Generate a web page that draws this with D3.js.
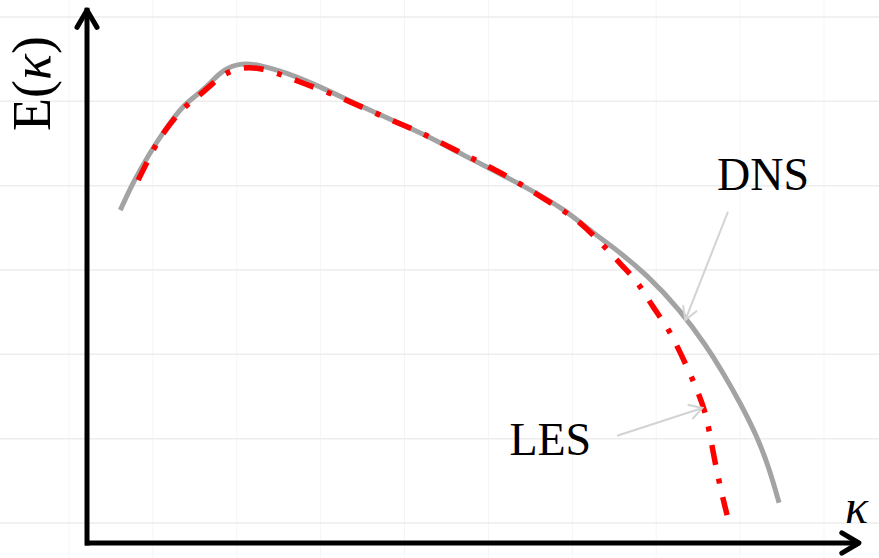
<!DOCTYPE html>
<html>
<head>
<meta charset="utf-8">
<script src="https://cdn.jsdelivr.net/npm/d3@7"></script>
<style>
  html, body { margin: 0; padding: 0; background: #fff; }
  svg { display: block; }
</style>
</head>
<body>
<svg id="chart" width="879" height="558"></svg>
<script>
// ---- data (schematic energy spectrum, arbitrary units 0-100) ----
const dnsK = [4.3, 5.9, 8.1, 10.3, 12.4, 14.6, 16.3, 17.5, 19.7, 22.3, 25.8, 29.7, 35.6, 40.0, 44.3, 48.5, 52.9, 57.2, 61.4, 65.8, 67.9, 72.3, 76.5, 80.0, 82.1, 84.3, 86.5, 88.1, 89.3];
const dnsE = [62.1, 67.2, 72.8, 77.6, 81.7, 84.0, 86.4, 88.2, 89.6, 89.2, 87.7, 85.4, 81.3, 78.5, 75.7, 72.4, 69.2, 65.9, 62.5, 57.3, 55.2, 50.0, 43.5, 36.6, 31.7, 26.1, 19.8, 13.6, 7.5];

const lesK = [6.6, 8.5, 9.8, 12.4, 14.6, 16.1, 17.8, 20.1, 22.3, 24.5, 27.5, 31.0, 32.9, 36.9, 40.1, 43.2, 46.2, 49.4, 52.4, 55.5, 58.2, 61.2, 63.6, 66.2, 69.2, 71.1, 73.0, 74.8, 76.1, 77.8, 79.1, 80.0, 81.0, 82.1, 82.6];
const lesE = [67.7, 73.3, 76.5, 81.3, 83.6, 85.6, 87.7, 88.8, 88.6, 87.7, 86.0, 84.1, 83.0, 80.4, 78.4, 76.5, 74.3, 72.0, 69.8, 67.4, 64.9, 62.3, 59.9, 56.2, 51.5, 48.7, 44.0, 40.5, 36.9, 31.7, 27.2, 23.5, 15.1, 8.0, 5.2];

const seriesNames = ["DNS", "LES"];
const labelK = [81.3, 54.5];
const labelE = [65.9, 16.4];
const arrowFromK = [82.7, 68.4];
const arrowFromE = [61.8, 20.0];
const arrowToK = [77.2, 79.4];
const arrowToE = [41.6, 25.2];

const xAxisLabel = "κ";
const yAxisLabelMain = "E(";
const yAxisLabelVar = "κ";
const yAxisLabelEnd = ")";

// ---- layout ----
const svg = d3.select("#chart");
const W = 879, H = 558;
const x = d3.scaleLinear().domain([0, 100]).range([87, 862]);
const y = d3.scaleLinear().domain([0, 100]).range([543, 7]);

const serif = "'Liberation Serif', 'DejaVu Serif', serif";

// background grid
const gx = d3.scaleLinear().domain([0, 9]).range([69, 824]);
const gy = d3.scaleLinear().domain([0, 6]).range([17, 523]);
svg.append("g").selectAll("line").data(d3.range(10)).join("line")
  .attr("x1", d => gx(d)).attr("x2", d => gx(d))
  .attr("y1", 0).attr("y2", H)
  .attr("stroke", "#f5f5f5").attr("stroke-width", 1);
svg.append("g").selectAll("line").data(d3.range(7)).join("line")
  .attr("x1", 0).attr("x2", W)
  .attr("y1", d => gy(d)).attr("y2", d => gy(d))
  .attr("stroke", "#ededed").attr("stroke-width", 1.5);

// curves
const line = d3.line().x(d => x(d[0])).y(d => y(d[1])).curve(d3.curveBasis);
const dns = dnsK.map((k, i) => [k, dnsE[i]]);
const les = lesK.map((k, i) => [k, lesE[i]]);

svg.append("path").datum(dns).attr("d", line)
  .attr("fill", "none").attr("stroke", "#a3a3a3").attr("stroke-width", 5);
svg.append("path").datum(les).attr("d", line)
  .attr("fill", "none").attr("stroke", "#ff0000").attr("stroke-width", 5.5)
  .attr("stroke-dasharray", "20,14,5,14");

// axes with arrowheads
const axisG = svg.append("g").attr("stroke", "#000").attr("stroke-width", 5).attr("fill", "none");
axisG.append("path")
  .attr("d", `M${x(0)},${y(0)}L${x(0)},${y(99.4)}`).attr("stroke-linecap", "square");
axisG.append("path")
  .attr("d", `M${x(0) - 2},${y(0)}L${x(99.6)},${y(0)}`).attr("stroke-linecap", "butt");
axisG.append("path")
  .attr("d", `M${x(0) - 10},${y(96.2)}L${x(0)},${y(99.4)}L${x(0) + 10},${y(96.2)}`)
  .attr("stroke-linejoin", "round").attr("stroke-linecap", "round");
axisG.append("path")
  .attr("d", `M${x(97.4)},${y(1.9)}L${x(99.6)},${y(0)}L${x(97.4)},${y(-1.9)}`)
  .attr("stroke-linejoin", "round").attr("stroke-linecap", "round");

// axis labels
svg.append("text")
  .attr("x", 845).attr("y", 523)
  .attr("font-family", serif).attr("font-size", 48).attr("font-style", "italic")
  .attr("fill", "#000").text(xAxisLabel);

const yl = svg.append("text")
  .attr("transform", "translate(50,131) rotate(-90)")
  .attr("font-family", serif).attr("font-size", 54).attr("fill", "#000");
yl.append("tspan").text(yAxisLabelMain);
yl.append("tspan").attr("font-style", "italic").text(yAxisLabelVar);
yl.append("tspan").text(yAxisLabelEnd);

// annotations
const ann = svg.append("g");
seriesNames.forEach((name, i) => {
  ann.append("text")
    .attr("x", x(labelK[i])).attr("y", y(labelE[i]))
    .attr("font-family", serif).attr("font-size", 46).attr("fill", "#000")
    .text(name);
  const x1 = x(arrowFromK[i]), y1 = y(arrowFromE[i]);
  const x2 = x(arrowToK[i]), y2 = y(arrowToE[i]);
  const ang = Math.atan2(y2 - y1, x2 - x1);
  const L = 15, a = Math.PI / 6;
  ann.append("line").attr("x1", x1).attr("y1", y1).attr("x2", x2).attr("y2", y2)
    .attr("stroke", "#d3d3d3").attr("stroke-width", 2);
  ann.append("path")
    .attr("d", `M${x2 - L * Math.cos(ang - a)},${y2 - L * Math.sin(ang - a)}L${x2},${y2}L${x2 - L * Math.cos(ang + a)},${y2 - L * Math.sin(ang + a)}`)
    .attr("fill", "none").attr("stroke", "#d3d3d3").attr("stroke-width", 2);
});
</script>
</body>
</html>
